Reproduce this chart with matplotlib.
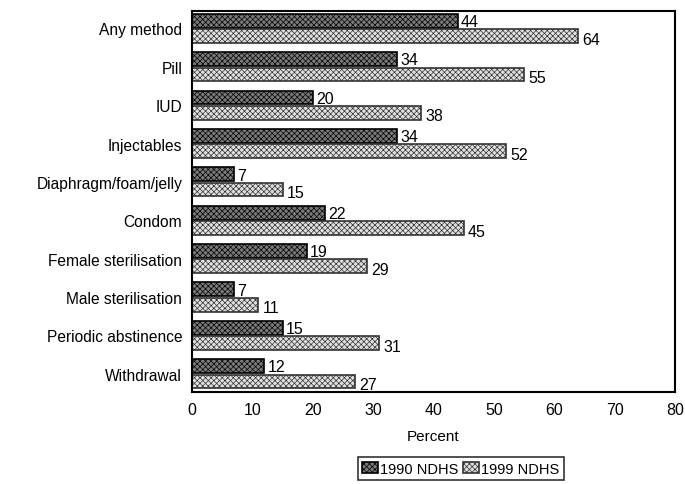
import numpy as np
import matplotlib.pyplot as plt

plt.rcParams['font.family'] = ['Liberation Sans', 'DejaVu Sans']
plt.rcParams['hatch.linewidth'] = 0.5

methods = ['Any method', 'Pill', 'IUD', 'Injectables', 'Diaphragm/foam/jelly',
           'Condom', 'Female sterilisation', 'Male sterilisation',
           'Periodic abstinence', 'Withdrawal']
v1990 = [44, 34, 20, 34, 7, 22, 19, 7, 15, 12]
v1999 = [64, 55, 38, 52, 15, 45, 29, 11, 31, 27]
series_labels = ['1990 NDHS', '1999 NDHS']

fig = plt.figure(figsize=(6.85, 4.85), dpi=100)
ax = fig.add_axes((0.2803, 0.190, 0.705, 0.785))

y = np.arange(len(methods))
h = 0.36
ax.barh(y - 0.2, v1990, height=h, color='#7a7a7a', edgecolor='black',
        hatch='xxxxxx', linewidth=1.2, label=series_labels[0])
ax.barh(y + 0.2, v1999, height=h, color='#e0e0e0', edgecolor='#333333',
        hatch='xxxxxx', linewidth=1.2, label=series_labels[1])

for yy, v in zip(y - 0.2, v1990):
    ax.text(v + 0.5, yy + 0.02, str(v), va='center', ha='left', fontsize=11.5)
for yy, v in zip(y + 0.2, v1999):
    ax.text(v + 0.7, yy + 0.08, str(v), va='center', ha='left', fontsize=11.5)

ax.set_xlim(0, 80)
ax.set_ylim(9.47, -0.45)
ax.set_xticks(range(0, 81, 10))
ax.set_yticks(y)
ax.set_yticklabels(methods, fontsize=11.2)
ax.tick_params(axis='x', labelsize=11.5, length=0, pad=7)
ax.tick_params(axis='y', length=0, pad=7)
ax.set_xlabel('Percent', fontsize=11, labelpad=9)
for s in ax.spines.values():
    s.set_linewidth(1.5)

ax.legend(loc='upper center', bbox_to_anchor=(0.557, -0.172), ncol=2,
          frameon=True, fancybox=False, edgecolor='black', fontsize=10.5,
          handlelength=1.1, handleheight=0.8, handletextpad=0.15,
          columnspacing=0.3, borderpad=0.3, borderaxespad=0)
ax.get_legend().get_frame().set_linewidth(1.2)

fig.savefig('out.png', dpi=100)
